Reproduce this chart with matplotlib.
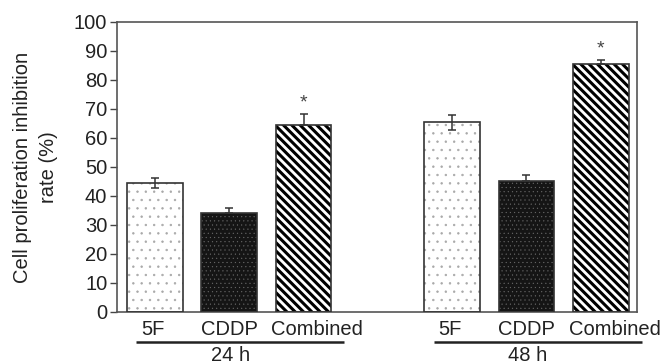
import matplotlib
matplotlib.use("Agg")
import matplotlib.pyplot as plt
import numpy as np

plt.rcParams['font.family'] = ['Liberation Sans', 'DejaVu Sans']

groups = ["24 h", "48 h"]
treatments = ["5F", "CDDP", "Combined"]
values_24h = [44.5, 34.0, 64.5]
errors_24h = [1.7, 1.9, 3.7]
values_48h = [65.4, 45.2, 85.6]
errors_48h = [2.6, 2.1, 1.3]
significant_24h = [False, False, True]
significant_48h = [False, False, True]
y_ticks = list(range(0, 101, 10))

fig = plt.figure(figsize=(6.63, 3.64), dpi=100)
ax = fig.add_axes([0.1765, 0.1429, 0.961 - 0.1765, 0.9396 - 0.1429])

width = 0.75
styles = [
    dict(face="white", hatch="..", hcolor="#a8a8a8", hlw=0.5, lower=True, lab_dx=-0.03),
    dict(face="#151515", hatch="....", hcolor="#6a6a6a", hlw=0.3, lower=False, lab_dx=0.0),
    dict(face="white", hatch="\\\\\\\\", hcolor="black", hlw=2.2, lower=False, lab_dx=0.185),
]

all_vals = [values_24h, values_48h]
all_errs = [errors_24h, errors_48h]
all_sig = [significant_24h, significant_48h]
group_starts = [0, 4]
FS = 14.5

for g, start in enumerate(group_starts):
    pos = np.arange(len(treatments)) + start
    for i, x in enumerate(pos):
        st = styles[i]
        v = all_vals[g][i]
        e = all_errs[g][i]
        plt.rcParams['hatch.linewidth'] = st["hlw"]
        ax.bar(x, v, width=width, color=st["face"], edgecolor=st["hcolor"],
               hatch=st["hatch"], linewidth=0, zorder=2)
        ax.bar(x, v, width=width, fill=False, edgecolor="#333333",
               linewidth=1.2, zorder=3)
        lo = e if st["lower"] else 0
        ax.errorbar(x, v, yerr=[[lo], [e]], fmt="none", ecolor="#333333",
                    elinewidth=1.1, capsize=3, capthick=1.1, zorder=4)
        if all_sig[g][i]:
            ax.text(x, v + e + 1.0, "*", ha="center", va="bottom",
                    fontsize=14, color="#444444", zorder=5)
    for i, x in enumerate(pos):
        ax.text(x + styles[i]["lab_dx"], -2.6, treatments[i], ha="center", va="top",
                fontsize=FS, color="#222222", clip_on=False)
    ax.plot([start - 0.25, start + 2.55], [-10.3, -10.3], color="#222222",
            lw=1.8, clip_on=False, solid_capstyle="butt")
    ax.text(start + 1.02, -11.6, groups[g], ha="center", va="top",
            fontsize=FS, color="#222222", clip_on=False)

ax.set_xlim(-0.51, 6.49)
ax.set_ylim(0, 100)
ax.set_yticks(y_ticks)
ax.set_yticklabels([str(t) for t in y_ticks], fontsize=FS, color="#222222")
ax.set_xticks([])
ax.tick_params(axis="y", direction="out", length=5, width=1, color="#444444", pad=2)
for s in ax.spines.values():
    s.set_color("#555555")
    s.set_linewidth(1.2)

fig.text(0.054, (0.1429 + 0.9396) / 2, "Cell proliferation inhibition\nrate (%)",
         rotation=90, ha="center", va="center", fontsize=FS,
         color="#222222", linespacing=1.45)

fig.savefig("out.png", dpi=100)
